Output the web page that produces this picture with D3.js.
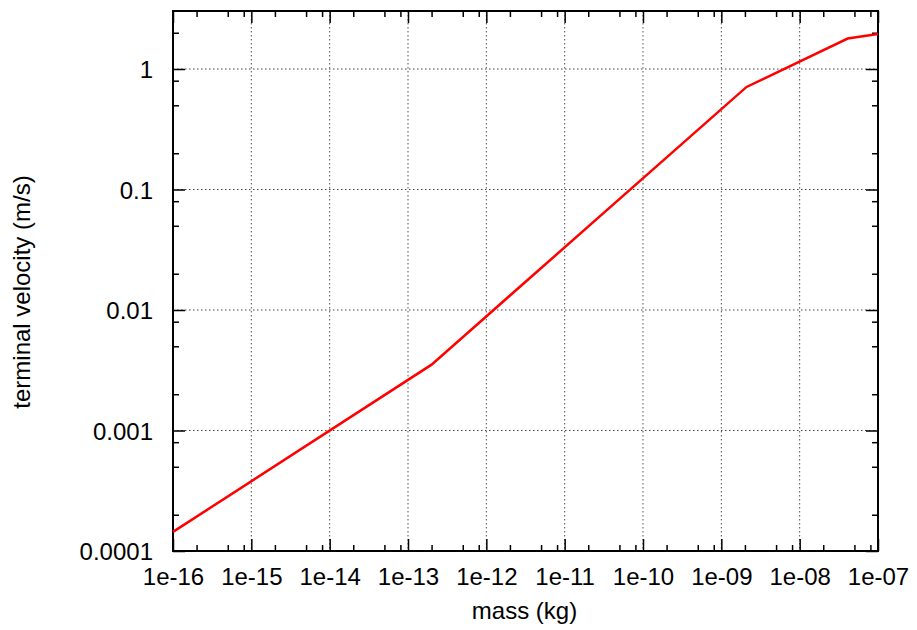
<!DOCTYPE html>
<html><head><meta charset="utf-8">
<script src="https://cdn.jsdelivr.net/npm/d3@7"></script>
<style>body{margin:0;background:#fff;} text{font-family:"Liberation Sans",Arial,sans-serif;}</style>
</head><body>
<svg id="c" width="917" height="630"></svg>
<script>
const massValues = [1e-16, 2e-13, 2.1e-9, 4.1e-8, 1e-7];
const velocityValues = [1.44e-4, 3.52e-3, 0.71, 1.79, 1.95];
const xTickValues = [1e-16,1e-15,1e-14,1e-13,1e-12,1e-11,1e-10,1e-9,1e-8,1e-7];
const xTickLabels = ["1e-16","1e-15","1e-14","1e-13","1e-12","1e-11","1e-10","1e-09","1e-08","1e-07"];
const yTickValues = [1e-4,1e-3,1e-2,1e-1,1];
const yTickLabels = ["0.0001","0.001","0.01","0.1","1"];
const minorMultipliers = [2,5,8];

const L=173,R=878,T=11,B=551;
const svg=d3.select("#c");
const x=d3.scaleLog().domain([1e-16,1e-7]).range([L,R]);
const y=d3.scaleLog().domain([1e-4,3.03]).range([B,T]);

const xMinor=[]; xTickValues.forEach(v=>minorMultipliers.forEach(m=>{const t=v*m; if(t<=1e-7) xMinor.push(t);}));
const yMinor=[]; yTickValues.forEach(v=>minorMultipliers.forEach(m=>{const t=v*m; if(t<=3.03) yMinor.push(t);}));

const g=svg.append("g");
g.selectAll(".gx").data(xTickValues.slice(1,-1)).enter().append("line")
 .attr("x1",d=>x(d)).attr("x2",d=>x(d)).attr("y1",T).attr("y2",B)
 .attr("stroke","#555").attr("stroke-width",1).attr("stroke-dasharray","1.5,2.5");
g.selectAll(".gy").data(yTickValues.slice(1)).enter().append("line")
 .attr("y1",d=>y(d)).attr("y2",d=>y(d)).attr("x1",L).attr("x2",R)
 .attr("stroke","#444").attr("stroke-width",1).attr("stroke-dasharray","1.5,2.5");

function tickAxis(axisFn, scale, vals, size, transform){
  const a=axisFn(scale).tickValues(vals).tickSize(size).tickFormat("");
  const ag=svg.append("g").attr("transform",transform).call(a);
  ag.select(".domain").remove();
  ag.selectAll(".tick line").attr("stroke","#000").attr("stroke-width",1.5);
}
tickAxis(d3.axisTop, x, xTickValues, 12, `translate(0,${B})`);
tickAxis(d3.axisTop, x, xMinor, 6, `translate(0,${B})`);
tickAxis(d3.axisBottom, x, xTickValues, 12, `translate(0,${T})`);
tickAxis(d3.axisBottom, x, xMinor, 6, `translate(0,${T})`);
tickAxis(d3.axisRight, y, yTickValues, 12, `translate(${L},0)`);
tickAxis(d3.axisRight, y, yMinor, 6, `translate(${L},0)`);
tickAxis(d3.axisLeft, y, yTickValues, 12, `translate(${R},0)`);
tickAxis(d3.axisLeft, y, yMinor, 6, `translate(${R},0)`);

const xl=d3.axisBottom(x).tickValues(xTickValues).tickSize(0).tickPadding(0)
 .tickFormat((d,i)=>xTickLabels[i]);
const xlg=svg.append("g").attr("transform",`translate(0,${B})`).call(xl);
xlg.select(".domain").remove();
xlg.selectAll("text").attr("font-size",24).attr("fill","#000").attr("dy",0).attr("y",34)
 .style("font-family","'Liberation Sans',Arial,sans-serif");
const yl=d3.axisLeft(y).tickValues(yTickValues).tickSize(0).tickPadding(0)
 .tickFormat((d,i)=>yTickLabels[i]);
const ylg=svg.append("g").attr("transform",`translate(${L},0)`).call(yl);
ylg.select(".domain").remove();
ylg.selectAll("text").attr("font-size",24).attr("fill","#000").attr("x",-20).attr("dy","0.36em")
 .style("font-family","'Liberation Sans',Arial,sans-serif");

svg.append("rect").attr("x",L).attr("y",T).attr("width",R-L).attr("height",B-T)
 .attr("fill","none").attr("stroke","#000").attr("stroke-width",2);

const pts=massValues.map((m,i)=>[m,velocityValues[i]]);
svg.append("path").datum(pts).attr("d",d3.line().x(d=>x(d[0])).y(d=>y(d[1])))
 .attr("fill","none").attr("stroke","#ff0000").attr("stroke-width",2.5);

svg.append("text").attr("x",(L+R)/2-1).attr("y",619).attr("text-anchor","middle")
 .attr("font-size",24).text("mass (kg)");
svg.append("text").attr("transform",`translate(30,292) rotate(-90)`).attr("text-anchor","middle")
 .attr("font-size",24).text("terminal velocity (m/s)");
</script>
</body></html>
